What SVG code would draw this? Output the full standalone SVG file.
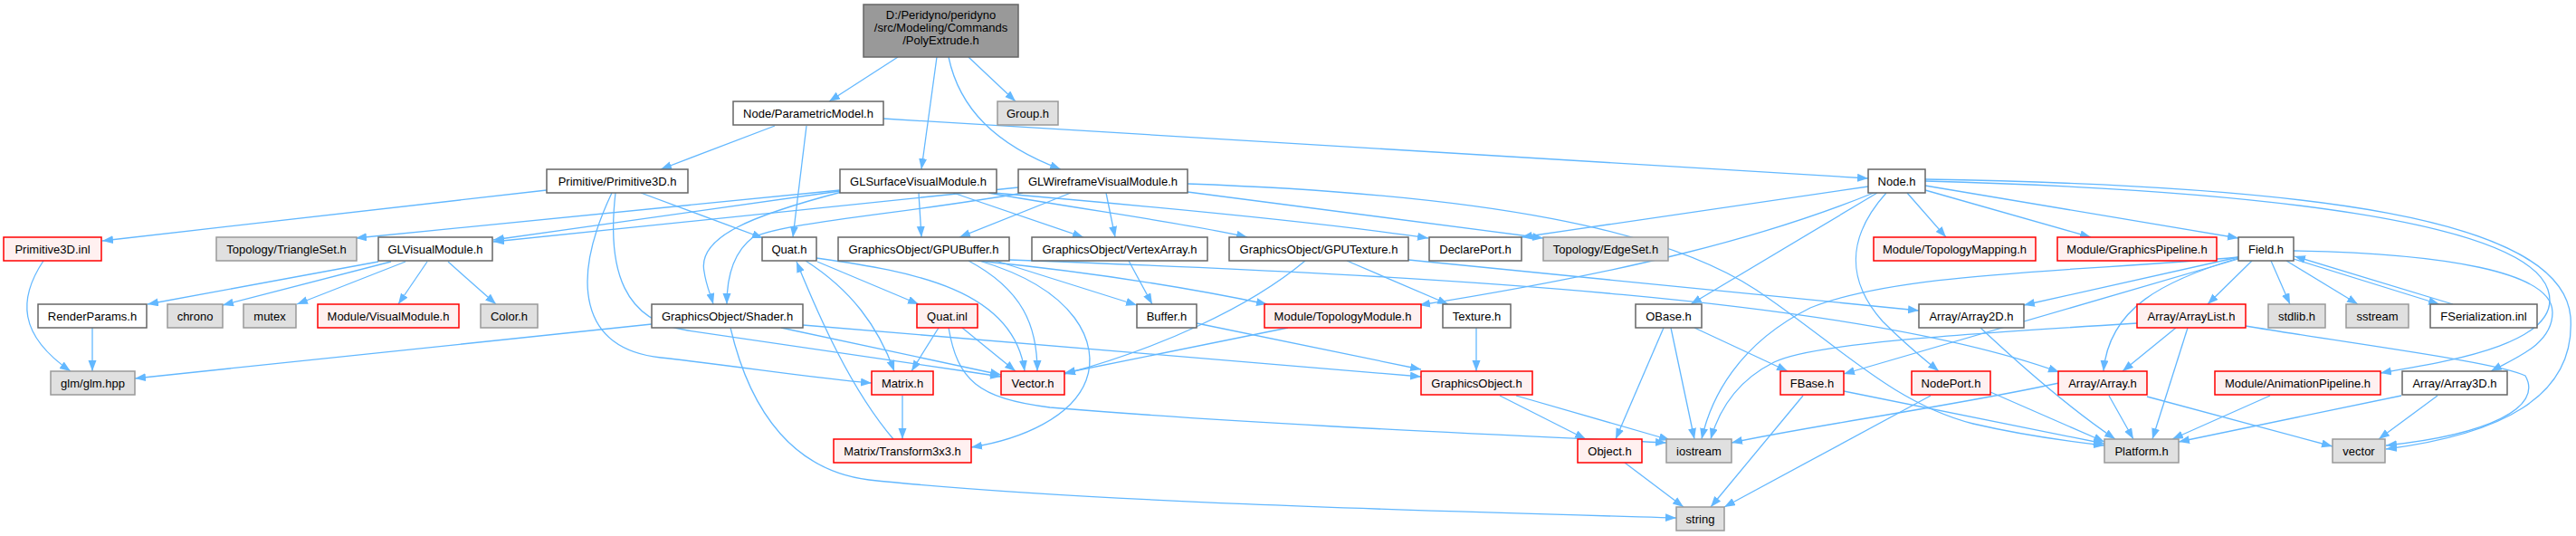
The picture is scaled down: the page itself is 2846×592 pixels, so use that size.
<svg xmlns="http://www.w3.org/2000/svg" width="2846" height="592" viewBox="0 0 2846 592">
<style>
rect{stroke-width:1.5}
.w{fill:#ffffff;stroke:#666666}
.g{fill:#e0e0e0;stroke:#999999}
.r{fill:#fff0f0;stroke:#ff0000}
.root{fill:#999999;stroke:#666666}
text{font-family:"Liberation Sans",Arial,sans-serif;font-size:13px;text-anchor:middle;fill:#000}
#edges path{fill:none;stroke:#63b8ff;stroke-width:1.3;marker-end:url(#a)}
</style>
<defs>
<marker id="a" markerUnits="userSpaceOnUse" markerWidth="13" markerHeight="10" refX="12" refY="4.5" orient="auto">
<path d="M0,0 L12,4.5 L0,9 z" fill="#63b8ff" stroke="none"/>
</marker>
</defs>
<rect width="2846" height="592" fill="#ffffff"/>
<g id="edges">
<path d="M992,63 L916,112"/>
<path d="M1035,63 L1018,187"/>
<path d="M1048,63 C1060,120 1100,160 1172,187"/>
<path d="M1070,63 L1122,112"/>
<path d="M856,139 L730,187"/>
<path d="M891,139 L876,262"/>
<path d="M976,131 L2064,197"/>
<path d="M604,210 L113,266"/>
<path d="M708,213 L843,263"/>
<path d="M676,213 C630,310 640,385 730,395 C820,405 900,418 963,423"/>
<path d="M680,213 C670,300 690,355 760,365 C900,385 1000,400 1106,416"/>
<path d="M928,210 L393,263"/>
<path d="M928,211 L545,265"/>
<path d="M1125,207 L545,267"/>
<path d="M1015,213 L1018,262"/>
<path d="M930,212 C830,238 770,262 778,300 C780,315 785,325 788,336"/>
<path d="M1053,213 L1197,262"/>
<path d="M1092,213 C1200,232 1320,248 1378,262"/>
<path d="M1098,213 C1250,226 1450,244 1578,263"/>
<path d="M1183,213 L1060,262"/>
<path d="M1222,213 L1232,262"/>
<path d="M1130,213 C1000,236 870,245 832,262 C808,280 803,310 803,336"/>
<path d="M1312,212 L1705,263"/>
<path d="M1312,203 C1650,215 1840,255 1940,320 C2030,380 2090,445 2180,468 C2240,482 2290,488 2325,492"/>
<path d="M903,289 L1015,336"/>
<path d="M890,288 C940,320 970,360 988,410"/>
<path d="M902,285 C1010,300 1120,320 1132,410"/>
<path d="M987,485 C940,430 905,350 880,289"/>
<path d="M1037,362 L1007,410"/>
<path d="M1063,362 L1122,410"/>
<path d="M1048,362 C1058,420 1080,440 1160,450 C1400,470 1700,482 1841,489"/>
<path d="M997,437 L997,485"/>
<path d="M720,358 L149,418"/>
<path d="M807,362 C830,460 880,520 960,530 C1200,555 1600,565 1852,572"/>
<path d="M887,359 L1570,416"/>
<path d="M863,362 L1106,414"/>
<path d="M1070,288 C1130,320 1146,360 1146,410"/>
<path d="M1082,288 C1190,320 1215,380 1200,420 C1185,460 1130,485 1073,494"/>
<path d="M1100,288 L1256,337"/>
<path d="M1080,288 C1200,300 1300,315 1400,336"/>
<path d="M1115,287 C1600,305 2050,330 2275,411"/>
<path d="M1247,288 L1273,336"/>
<path d="M1442,288 C1380,340 1280,385 1176,413"/>
<path d="M1488,288 L1600,336"/>
<path d="M1556,287 L2120,343"/>
<path d="M1423,362 L1176,412"/>
<path d="M1322,357 L1570,408"/>
<path d="M1631,362 L1631,410"/>
<path d="M1657,437 L1752,485"/>
<path d="M1675,437 L1845,486"/>
<path d="M1795,511 L1860,560"/>
<path d="M1838,362 L1785,485"/>
<path d="M1846,362 L1872,485"/>
<path d="M1872,362 L1975,410"/>
<path d="M1992,437 L1890,560"/>
<path d="M2037,432 L2325,490"/>
<path d="M2133,437 L1905,560"/>
<path d="M2199,433 L2325,488"/>
<path d="M2064,206 L1681,262"/>
<path d="M2070,213 C1950,262 1800,300 1568,337"/>
<path d="M2074,213 L1868,336"/>
<path d="M2084,213 C2040,262 2040,310 2080,355 C2110,385 2130,400 2142,410"/>
<path d="M2107,213 L2150,262"/>
<path d="M2127,210 L2310,262"/>
<path d="M2127,205 L2473,263"/>
<path d="M2127,200 C2500,210 2790,245 2815,320 C2835,380 2700,400 2630,412"/>
<path d="M2127,198 C2550,205 2830,240 2840,350 C2846,440 2760,480 2636,496"/>
<path d="M2488,288 L2439,336"/>
<path d="M2509,288 L2530,336"/>
<path d="M2526,288 L2605,336"/>
<path d="M2534,286 L2695,336"/>
<path d="M2710,336 L2535,283"/>
<path d="M2473,285 C2390,310 2330,340 2324,410"/>
<path d="M2473,284 L2236,337"/>
<path d="M2473,286 L2037,413"/>
<path d="M2473,284 C2300,300 2100,300 2000,340 C1920,380 1890,440 1880,485"/>
<path d="M2534,277 C2700,280 2820,300 2820,345 C2820,380 2780,395 2752,410"/>
<path d="M2404,362 L2345,410"/>
<path d="M2417,362 L2378,485"/>
<path d="M2361,357 C2150,370 2000,380 1960,400 C1920,420 1900,450 1890,485"/>
<path d="M2481,360 C2600,380 2760,400 2790,415 C2810,450 2750,480 2636,492"/>
<path d="M2188,362 C2250,420 2300,460 2337,485"/>
<path d="M2330,437 L2357,485"/>
<path d="M2372,438 L2577,493"/>
<path d="M2275,423 C2150,450 2000,470 1913,489"/>
<path d="M2508,437 L2400,485"/>
<path d="M2653,437 L2407,488"/>
<path d="M2693,437 L2628,485"/>
<path d="M418,289 L163,336"/>
<path d="M432,289 L246,337"/>
<path d="M448,289 L328,336"/>
<path d="M472,289 L440,336"/>
<path d="M495,289 L548,336"/>
<path d="M48,288 C20,330 20,370 78,410"/>
<path d="M102,362 L102,410"/>
</g>
<g id="n_root"><rect class="root" x="954" y="5" width="171" height="58"/><text x="1039.5" y="20.5">D:/Peridyno/peridyno</text><text x="1039.5" y="34.5">/src/Modeling/Commands</text><text x="1039.5" y="48.5">/PolyExtrude.h</text></g>
<g id="n_pm"><rect class="w" x="810" y="112" width="166" height="26"/><text x="893" y="130">Node/ParametricModel.h</text></g>
<g id="n_group"><rect class="g" x="1102" y="112" width="67" height="26"/><text x="1135.5" y="130">Group.h</text></g>
<g id="n_prim"><rect class="w" x="604" y="187" width="156" height="26"/><text x="682" y="205">Primitive/Primitive3D.h</text></g>
<g id="n_gls"><rect class="w" x="928" y="187" width="173" height="26"/><text x="1014.5" y="205">GLSurfaceVisualModule.h</text></g>
<g id="n_glw"><rect class="w" x="1125" y="187" width="187" height="26"/><text x="1218.5" y="205">GLWireframeVisualModule.h</text></g>
<g id="n_node"><rect class="w" x="2064" y="187" width="63" height="26"/><text x="2095.5" y="205">Node.h</text></g>
<g id="n_pinl"><rect class="r" x="4" y="262" width="108" height="26"/><text x="58" y="280">Primitive3D.inl</text></g>
<g id="n_tri"><rect class="g" x="239" y="262" width="155" height="26"/><text x="316.5" y="280">Topology/TriangleSet.h</text></g>
<g id="n_glv"><rect class="w" x="418" y="262" width="126" height="26"/><text x="481" y="280">GLVisualModule.h</text></g>
<g id="n_quat"><rect class="w" x="842" y="262" width="60" height="26"/><text x="872" y="280">Quat.h</text></g>
<g id="n_gpub"><rect class="w" x="926" y="262" width="189" height="26"/><text x="1020.5" y="280">GraphicsObject/GPUBuffer.h</text></g>
<g id="n_va"><rect class="w" x="1140" y="262" width="194" height="26"/><text x="1237" y="280">GraphicsObject/VertexArray.h</text></g>
<g id="n_gput"><rect class="w" x="1358" y="262" width="198" height="26"/><text x="1457" y="280">GraphicsObject/GPUTexture.h</text></g>
<g id="n_dp"><rect class="w" x="1579" y="262" width="102" height="26"/><text x="1630" y="280">DeclarePort.h</text></g>
<g id="n_edge"><rect class="g" x="1705" y="262" width="138" height="26"/><text x="1774" y="280">Topology/EdgeSet.h</text></g>
<g id="n_tmap"><rect class="r" x="2070" y="262" width="179" height="26"/><text x="2159.5" y="280">Module/TopologyMapping.h</text></g>
<g id="n_gpipe"><rect class="r" x="2273" y="262" width="176" height="26"/><text x="2361" y="280">Module/GraphicsPipeline.h</text></g>
<g id="n_field"><rect class="w" x="2473" y="262" width="61" height="26"/><text x="2503.5" y="280">Field.h</text></g>
<g id="n_rp"><rect class="w" x="42" y="336" width="120" height="26"/><text x="102" y="354">RenderParams.h</text></g>
<g id="n_chrono"><rect class="g" x="185" y="336" width="61" height="26"/><text x="215.5" y="354">chrono</text></g>
<g id="n_mutex"><rect class="g" x="269" y="336" width="58" height="26"/><text x="298" y="354">mutex</text></g>
<g id="n_vm"><rect class="r" x="351" y="336" width="156" height="26"/><text x="429" y="354">Module/VisualModule.h</text></g>
<g id="n_color"><rect class="g" x="531" y="336" width="63" height="26"/><text x="562.5" y="354">Color.h</text></g>
<g id="n_shader"><rect class="w" x="720" y="336" width="167" height="26"/><text x="803.5" y="354">GraphicsObject/Shader.h</text></g>
<g id="n_qinl"><rect class="r" x="1013" y="336" width="67" height="26"/><text x="1046.5" y="354">Quat.inl</text></g>
<g id="n_buf"><rect class="w" x="1256" y="336" width="66" height="26"/><text x="1289" y="354">Buffer.h</text></g>
<g id="n_tmod"><rect class="r" x="1397" y="336" width="173" height="26"/><text x="1483.5" y="354">Module/TopologyModule.h</text></g>
<g id="n_tex"><rect class="w" x="1594" y="336" width="75" height="26"/><text x="1631.5" y="354">Texture.h</text></g>
<g id="n_obase"><rect class="w" x="1807" y="336" width="73" height="26"/><text x="1843.5" y="354">OBase.h</text></g>
<g id="n_a2d"><rect class="w" x="2120" y="336" width="116" height="26"/><text x="2178" y="354">Array/Array2D.h</text></g>
<g id="n_alist"><rect class="r" x="2361" y="336" width="120" height="26"/><text x="2421" y="354">Array/ArrayList.h</text></g>
<g id="n_stdlib"><rect class="g" x="2506" y="336" width="63" height="26"/><text x="2537.5" y="354">stdlib.h</text></g>
<g id="n_sstream"><rect class="g" x="2592" y="336" width="69" height="26"/><text x="2626.5" y="354">sstream</text></g>
<g id="n_fser"><rect class="w" x="2685" y="336" width="118" height="26"/><text x="2744" y="354">FSerialization.inl</text></g>
<g id="n_glm"><rect class="g" x="56" y="410" width="93" height="26"/><text x="102.5" y="428">glm/glm.hpp</text></g>
<g id="n_matrix"><rect class="r" x="963" y="410" width="68" height="26"/><text x="997" y="428">Matrix.h</text></g>
<g id="n_vector"><rect class="r" x="1106" y="410" width="70" height="26"/><text x="1141" y="428">Vector.h</text></g>
<g id="n_gobj"><rect class="r" x="1570" y="410" width="123" height="26"/><text x="1631.5" y="428">GraphicsObject.h</text></g>
<g id="n_fbase"><rect class="r" x="1967" y="410" width="70" height="26"/><text x="2002" y="428">FBase.h</text></g>
<g id="n_nport"><rect class="r" x="2112" y="410" width="87" height="26"/><text x="2155.5" y="428">NodePort.h</text></g>
<g id="n_array"><rect class="r" x="2274" y="410" width="98" height="26"/><text x="2323" y="428">Array/Array.h</text></g>
<g id="n_anim"><rect class="r" x="2447" y="410" width="183" height="26"/><text x="2538.5" y="428">Module/AnimationPipeline.h</text></g>
<g id="n_a3d"><rect class="w" x="2654" y="410" width="116" height="26"/><text x="2712" y="428">Array/Array3D.h</text></g>
<g id="n_t3"><rect class="r" x="921" y="485" width="152" height="26"/><text x="997" y="503">Matrix/Transform3x3.h</text></g>
<g id="n_object"><rect class="r" x="1743" y="485" width="71" height="26"/><text x="1778.5" y="503">Object.h</text></g>
<g id="n_ios"><rect class="g" x="1841" y="485" width="72" height="26"/><text x="1877" y="503">iostream</text></g>
<g id="n_plat"><rect class="g" x="2325" y="485" width="82" height="26"/><text x="2366" y="503">Platform.h</text></g>
<g id="n_vec"><rect class="g" x="2577" y="485" width="58" height="26"/><text x="2606" y="503">vector</text></g>
<g id="n_string"><rect class="g" x="1852" y="560" width="53" height="26"/><text x="1878.5" y="578">string</text></g>
</svg>
